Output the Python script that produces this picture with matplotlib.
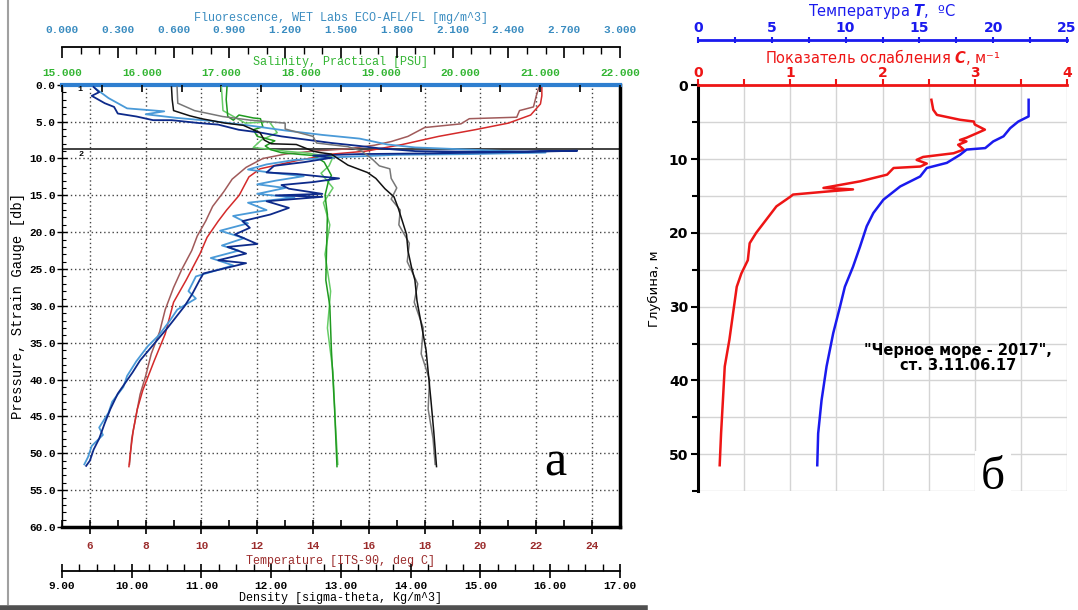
import numpy as np
import matplotlib.pyplot as plt
from matplotlib.ticker import MultipleLocator, FormatStrFormatter
from matplotlib.lines import Line2D

# ---- panel a: CTD profiles (pressure, db) ----
fl_navy_v = [0.17, 0.20, 0.16, 0.23, 0.28, 0.30, 0.40, 0.49, 0.59, 0.74, 0.84, 0.95, 1.07, 1.18,
             1.30, 1.45, 1.60, 1.70, 1.90, 2.30, 2.77, 2.50, 2.00, 1.60, 1.35, 1.45, 1.30, 1.14,
             1.10, 1.26, 1.49, 1.35, 1.18, 1.22, 1.40, 1.15, 1.40, 1.10, 1.22, 1.12, 0.97, 1.01,
             0.93, 1.05, 0.89, 0.99, 0.84, 0.99, 0.76, 0.74, 0.70, 0.66, 0.57, 0.50, 0.42, 0.38,
             0.30, 0.26, 0.23, 0.20, 0.17, 0.15, 0.13]
fl_navy_p = [0.3, 1.0, 1.5, 2.5, 3.0, 3.9, 4.3, 4.8, 4.8, 5.2, 5.4, 6.1, 6.5, 7.0,
             7.4, 7.9, 8.3, 8.6, 9.0, 9.1, 8.95, 9.1, 9.3, 9.4, 9.6, 9.9, 10.5, 11.0,
             11.9, 12.1, 12.7, 13.2, 13.6, 14.1, 14.8, 15.0, 15.2, 15.8, 16.7, 17.6, 18.5, 19.4,
             20.3, 21.6, 22.0, 22.9, 23.8, 24.2, 25.6, 26.5, 28.4, 30.0, 32.9, 35.0, 37.4, 39.0,
             41.9, 44.0, 45.9, 48.0, 49.5, 51.0, 51.7]
fl_light_v = [0.18, 0.25, 0.35, 0.55, 0.45, 0.62, 0.80, 1.00, 1.20, 1.40, 1.60, 1.75, 1.90, 2.10,
              2.40, 2.60, 2.20, 1.80, 1.50, 1.25, 1.10, 1.00, 1.15, 1.30, 1.15, 1.05, 1.20, 1.05,
              1.25, 1.00, 1.10, 0.92, 1.00, 0.85, 0.98, 0.86, 0.95, 0.80, 0.92, 0.72, 0.68, 0.72,
              0.62, 0.58, 0.52, 0.46, 0.40, 0.35, 0.33, 0.27, 0.25, 0.20, 0.22, 0.16, 0.14, 0.12]
fl_light_p = [0.5, 1.8, 3.2, 3.6, 4.0, 4.5, 4.9, 5.5, 6.2, 6.8, 7.3, 8.1, 8.5, 8.7,
              9.0, 9.2, 9.4, 9.5, 9.8, 10.2, 10.8, 11.5, 12.0, 12.4, 13.0, 13.5, 14.0, 14.8,
              15.3, 16.0, 17.0, 17.8, 18.8, 19.8, 20.8, 21.8, 22.5, 23.5, 24.5, 26.0, 28.0, 29.0,
              30.5, 32.0, 34.0, 35.5, 37.5, 39.5, 41.0, 43.0, 44.5, 46.5, 47.5, 49.0, 50.5, 51.5]

temp_red_v = [22.2, 22.2, 22.15, 21.8, 21.0, 19.8, 18.5, 17.2, 15.9, 14.7, 13.4, 12.1, 11.7, 11.35,
              10.9, 10.6, 10.2, 9.95, 9.45, 9.0, 8.7, 8.3, 7.9, 7.7, 7.55, 7.45, 7.4]
temp_red_p = [0.3, 1.5, 2.6, 4.1, 5.2, 6.1, 7.0, 8.1, 9.0, 9.4, 10.3, 11.4, 12.5, 15.0,
              17.0, 18.5, 20.7, 22.9, 26.5, 29.5, 33.8, 37.5, 41.4, 44.0, 47.0, 50.0, 51.8]
temp_brown_v = [22.1, 22.0, 21.9, 21.4, 21.3, 19.6, 19.3, 18.0, 17.4, 16.8, 16.2, 15.2, 14.0, 13.0,
                12.2, 11.6, 11.1, 10.8, 10.4, 10.15, 9.85, 9.65, 9.3, 9.0, 8.7, 8.5, 8.2, 8.0,
                7.8, 7.65, 7.5, 7.42]
temp_brown_p = [0.3, 1.5, 3.0, 3.5, 4.4, 4.6, 5.3, 5.8, 7.0, 7.7, 8.2, 8.7, 9.0, 9.4,
                10.0, 11.2, 12.8, 14.5, 16.5, 18.5, 20.5, 22.5, 25.0, 27.5, 30.5, 33.5, 36.5, 39.5,
                42.0, 45.0, 48.0, 51.5]

sal_v = [17.07, 17.06, 17.08, 17.15, 17.22, 17.40, 17.49, 17.52, 17.40, 17.45, 17.67, 17.55, 17.62,
         17.75, 17.94, 18.16, 18.29, 18.38, 18.34, 18.30, 18.33, 18.32, 18.31, 18.36, 18.38, 18.42, 18.45]
sal_p = [0.3, 2.0, 4.3, 4.8, 4.1, 4.5, 4.6, 5.7, 6.1, 7.0, 7.6, 8.3, 8.8,
         9.2, 9.4, 9.6, 10.5, 12.3, 13.2, 15.0, 17.6, 22.0, 26.5, 30.0, 36.0, 44.0, 51.8]
sal2_v = [17.00, 17.02, 17.30, 17.60, 17.70, 17.50, 17.40, 17.80, 18.10, 18.40, 18.35, 18.25, 18.40,
          18.28, 18.36, 18.30, 18.37, 18.33, 18.40, 18.43, 18.46]
sal2_p = [0.3, 3.5, 5.2, 5.0, 6.5, 7.5, 8.5, 9.0, 9.3, 9.8, 11.0, 12.0, 14.0,
          16.0, 19.0, 23.0, 28.0, 33.0, 39.0, 46.0, 51.5]

dens_v = [10.57, 10.58, 10.60, 10.83, 11.00, 11.34, 11.60, 11.84, 11.90, 12.00, 12.36, 12.60, 12.70,
          12.86, 13.10, 13.38, 13.50, 13.63, 13.76, 13.82, 13.88, 13.94, 13.96, 14.01, 14.06, 14.09,
          14.22, 14.29, 14.33, 14.37]
dens_p = [0.3, 2.0, 3.5, 4.2, 4.6, 5.2, 5.5, 6.5, 7.5, 8.0, 8.1, 9.0, 9.2,
          9.4, 10.9, 11.9, 12.7, 14.1, 15.2, 16.7, 18.5, 20.3, 22.5, 24.7, 26.5, 29.3,
          36.0, 42.8, 47.0, 51.8]
dens2_v = [10.65, 10.66, 10.90, 11.30, 11.70, 12.20, 12.20, 12.40, 12.60, 12.65, 13.10, 13.30, 13.45,
           13.55, 13.70, 13.72, 13.80, 13.72, 13.85, 13.83, 13.98, 13.95, 14.10, 14.05, 14.18, 14.15,
           14.27, 14.25, 14.32, 14.35]
dens2_p = [0.3, 2.5, 3.5, 4.3, 4.8, 5.2, 6.0, 6.5, 7.0, 7.9, 8.4, 9.0, 10.1,
           11.0, 11.4, 12.7, 14.0, 15.5, 17.0, 19.0, 21.5, 24.0, 27.0, 29.5, 33.0, 36.5,
           40.0, 44.0, 48.0, 51.5]

# ---- panel б: attenuation C and temperature T vs depth ----
c_val = [2.53, 2.55, 2.59, 2.84, 2.99, 3.00, 3.11, 3.02, 2.91, 2.84, 2.91, 2.82, 2.88, 2.77,
         2.44, 2.37, 2.48, 2.41, 2.12, 2.05, 1.76, 1.36, 1.68, 1.39, 1.03, 1.00, 0.85, 0.74,
         0.63, 0.56, 0.54, 0.47, 0.42, 0.38, 0.34, 0.29, 0.27, 0.25, 0.235]
c_depth = [1.95, 3.3, 4.0, 4.66, 4.9, 5.3, 6.0, 6.5, 7.1, 7.4, 7.6, 8.05, 8.7, 9.2,
           9.7, 10.1, 10.6, 11.0, 11.2, 12.1, 13.0, 13.9, 14.1, 14.4, 14.8, 15.1, 16.4, 18.2,
           20.0, 21.4, 23.7, 25.5, 27.3, 30.9, 34.5, 38.1, 42.7, 47.2, 51.5]
t_val = [22.4, 22.4, 21.7, 21.15, 20.7, 20.0, 19.46, 18.2, 17.76, 16.86, 15.5, 15.05, 13.7, 12.56,
         11.88, 11.43, 10.97, 10.5, 9.95, 9.62, 9.16, 8.71, 8.37, 8.14, 8.08]
t_depth = [1.95, 4.2, 4.9, 5.8, 6.9, 7.6, 8.5, 8.7, 9.4, 10.5, 11.2, 12.35, 13.7, 15.5,
           17.3, 19.1, 21.9, 24.6, 27.3, 30.0, 33.6, 38.1, 42.7, 47.2, 51.5]

plt.rcParams['font.family'] = 'Liberation Mono'
plt.rcParams['font.weight'] = 'bold'
plt.rcParams['font.size'] = 8

fig = plt.figure(figsize=(10.78, 6.10), dpi=100)

c_fl = '#3a8cc0'
c_sal = '#33b533'
c_temp = '#9b2c2c'

ax = fig.add_axes([0.0575, 0.136, 0.5176, 0.725])
ax.set_xlim(5, 25)
ax.set_ylim(60, 0)
ax.xaxis.set_major_locator(MultipleLocator(2))
ax.xaxis.set_minor_locator(MultipleLocator(1))
ax.yaxis.set_major_locator(MultipleLocator(5))
ax.yaxis.set_minor_locator(MultipleLocator(1))
ax.yaxis.set_major_formatter(FormatStrFormatter('%.1f'))
ax.tick_params(axis='x', which='major', direction='inout', length=10, width=1.2,
               labelcolor=c_temp, pad=5)
ax.tick_params(axis='x', which='minor', direction='in', length=5, width=1.2)
ax.tick_params(axis='y', which='major', direction='inout', length=7, width=1.0, pad=1)
ax.tick_params(axis='y', which='minor', direction='in', length=3, width=0.8)
ax.grid(True, which='major', linestyle=(0, (1, 2)), color='#444444', lw=1.0)
ax.set_xlabel('Temperature [ITS-90, deg C]', color=c_temp, labelpad=3, fontsize=8.5)
ax.set_ylabel('Pressure, Strain Gauge [db]', labelpad=3, fontsize=10)
ax.spines['top'].set_color('#2f7fd0')
ax.spines['top'].set_linewidth(3)
ax.spines['right'].set_linewidth(2.5)
ax.spines['bottom'].set_linewidth(2.5)
ax.spines['left'].set_linewidth(1.0)
ax.axhline(8.7, color='#333333', lw=1.3)
ax.text(5.55, 0.6, '1', fontsize=6, va='center')
ax.text(5.6, 9.4, '2', fontsize=6, va='center')

axs = ax.twiny()
axs.set_xlim(15, 22)
axs.xaxis.set_major_locator(MultipleLocator(1))
axs.xaxis.set_minor_locator(MultipleLocator(0.5))
axs.xaxis.set_major_formatter(FormatStrFormatter('%.3f'))
axs.tick_params(axis='x', which='both', direction='in', length=5, width=1.2, labelcolor=c_sal, pad=5)
axs.set_xlabel('Salinity, Practical [PSU]', color=c_sal, labelpad=2, fontsize=8.5)
for s in axs.spines.values():
    s.set_visible(False)

axf = ax.twiny()
axf.set_xlim(0, 3)
axf.xaxis.set_major_locator(MultipleLocator(0.3))
axf.xaxis.set_minor_locator(MultipleLocator(0.1))
axf.xaxis.set_major_formatter(FormatStrFormatter('%.3f'))
axf.tick_params(axis='x', which='major', direction='in', length=8, width=1.2, labelcolor=c_fl, pad=9)
axf.tick_params(axis='x', which='minor', direction='in', length=5, width=1.0)
axf.set_xlabel('Fluorescence, WET Labs ECO-AFL/FL [mg/m^3]', color=c_fl, labelpad=3, fontsize=8.5)
for k, s in axf.spines.items():
    s.set_visible(k == 'top')
axf.spines['top'].set_position(('axes', 1.085))
axf.spines['top'].set_linewidth(1.3)

axd = ax.twiny()
axd.set_xlim(9, 17)
axd.xaxis.set_ticks_position('bottom')
axd.xaxis.set_label_position('bottom')
axd.xaxis.set_major_locator(MultipleLocator(1))
axd.xaxis.set_minor_locator(MultipleLocator(0.25))
axd.xaxis.set_major_formatter(FormatStrFormatter('%.2f'))
axd.tick_params(axis='x', which='major', direction='inout', length=10, width=1.2, pad=2)
axd.tick_params(axis='x', which='minor', direction='in', length=5, width=1.0)
axd.set_xlabel('Density [sigma-theta, Kg/m^3]', labelpad=1, fontsize=8.5)
for k, s in axd.spines.items():
    s.set_visible(k == 'bottom')
axd.spines['bottom'].set_position(('axes', -0.1))
axd.spines['bottom'].set_linewidth(1.3)

ax.plot(temp_brown_v, temp_brown_p, color='#a05a5a', lw=1.1)
ax.plot(temp_red_v, temp_red_p, color='#d42a2a', lw=1.1)
axs.plot(sal2_v, sal2_p, color='#66cc66', lw=1.1)
axs.plot(sal_v, sal_p, color='#1f9a1f', lw=1.1)
axd.plot(dens2_v, dens2_p, color='#777777', lw=1.1)
axd.plot(dens_v, dens_p, color='#111111', lw=1.1)
axf.plot(fl_light_v, fl_light_p, color='#4a9ad8', lw=1.3)
axf.plot(fl_navy_v, fl_navy_p, color='#0d2a8a', lw=1.3)

ax.text(22.7, 51.4, 'а', family='Liberation Serif', weight='normal', fontsize=36,
        ha='center', va='center', zorder=10)

# grey frame of the left picture
fig.add_artist(Line2D([0.0075, 0.0075], [0.01, 1.0], transform=fig.transFigure,
                      color='#a0a0a0', lw=1.5))
fig.add_artist(Line2D([0.0, 0.598], [0.003, 0.003], transform=fig.transFigure,
                      color='#505050', lw=4))

# ---- panel б ----
c_red = '#ee1515'
c_blue = '#1a1aee'
sans = 'DejaVu Sans'

ax2 = fig.add_axes([0.6475, 0.195, 0.3423, 0.665])
axt = ax2.twiny()

ax2.set_xlim(0, 4)
ax2.set_ylim(55, 0)
ax2.xaxis.tick_top()
ax2.xaxis.set_label_position('top')
ax2.xaxis.set_major_locator(MultipleLocator(1))
ax2.xaxis.set_minor_locator(MultipleLocator(0.5))
ax2.yaxis.set_major_locator(MultipleLocator(10))
ax2.yaxis.set_minor_locator(MultipleLocator(5))
ax2.grid(True, which='both', color='#d4d4d4', lw=1.0)
ax2.set_axisbelow(True)
ax2.tick_params(axis='x', which='both', direction='out', length=4, width=1.5, color=c_red,
                labelcolor=c_red, labelsize=10, labelfontfamily=sans, pad=0)
ax2.tick_params(axis='y', which='major', direction='out', length=5, width=1.5,
                labelsize=10, labelfontfamily=sans, pad=2)
ax2.tick_params(axis='y', which='minor', direction='out', length=4, width=1.5)
for k in ['right', 'bottom']:
    ax2.spines[k].set_visible(False)
ax2.spines['top'].set_color(c_red)
ax2.spines['top'].set_linewidth(2)
ax2.spines['left'].set_linewidth(2.2)
ax2.set_xlabel('Показатель ослабления $C$, м⁻¹', color=c_red, family=sans,
               fontsize=10.5, labelpad=2)
ax2.set_ylabel('Глубина, м', family=sans, fontsize=9.5)
ax2.yaxis.set_label_coords(-0.1, 0.5)

axt.set_xlim(0, 25)
axt.xaxis.set_major_locator(MultipleLocator(5))
axt.xaxis.set_minor_locator(MultipleLocator(2.5))
axt.tick_params(axis='x', which='both', direction='inout', length=5, width=1.5, color=c_blue,
                labelcolor=c_blue, labelsize=10, labelfontfamily=sans, pad=1)
for k, s in axt.spines.items():
    s.set_visible(k == 'top')
axt.spines['top'].set_position(('axes', 1.112))
axt.spines['top'].set_color(c_blue)
axt.spines['top'].set_linewidth(2)
axt.set_xlabel('Температура $T$,  ºC', color=c_blue, family=sans, fontsize=10.5, labelpad=4)

ax2.plot(c_val, c_depth, color=c_red, lw=1.8, zorder=3)
axt.plot(t_val, t_depth, color=c_blue, lw=1.8, zorder=3)

ax2.text(2.82, 36.9, '"Черное море - 2017",\nст. 3.11.06.17', family=sans, weight='bold',
         fontsize=10.5, ha='center', va='center', linespacing=1.0)
ax2.text(3.2, 53.2, 'б', family='Liberation Serif', weight='normal', fontsize=34,
         ha='center', va='center', clip_on=False, zorder=10,
         bbox=dict(facecolor='white', edgecolor='none', pad=4))

fig.savefig('out.png', dpi=100)
